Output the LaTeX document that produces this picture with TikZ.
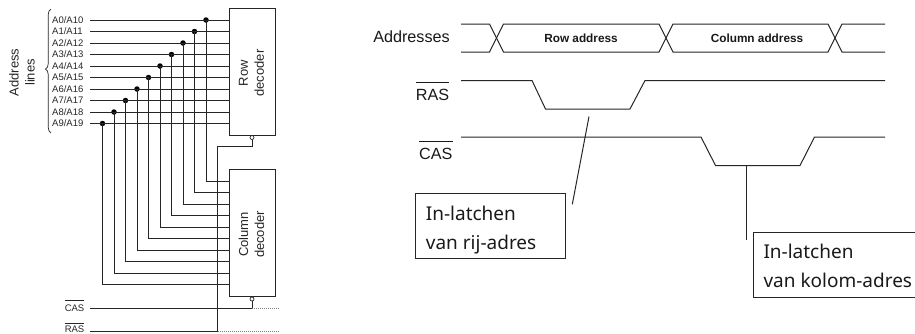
\documentclass[tikz,border=0pt]{standalone}
\usepackage{fontspec}
\setmainfont{Liberation Sans}
\newfontfamily\boxfont{Noto Sans}
\usetikzlibrary{decorations.pathreplacing,calc}
\tikzset{
  wire/.style={line width=1pt,color=black!85},
  box/.style={draw=black!85,line width=1pt,inner sep=0pt},
  dotted wire/.style={line width=1pt,color=black!50,dash pattern=on 1pt off 1pt},
  joint/.style={circle,fill=black,inner sep=0pt,minimum size=5.5pt},
  bubble/.style={circle,draw=black!85,fill=white,line width=0.7pt,inner sep=0pt,minimum size=4pt},
  small/.style={font=\fontsize{9.5}{11}\selectfont,text=black!85,inner sep=0pt},
  mid/.style={font=\fontsize{13}{16}\selectfont,text=black!85,align=center,inner sep=0pt},
  big/.style={font=\fontsize{16.2}{18}\selectfont,text=black!90,inner sep=0pt},
  bold/.style={font=\fontsize{11.8}{14}\selectfont\bfseries,text=black!90,inner sep=0pt},
  note/.style={box,anchor=north west,inner sep=0pt},
  notetext/.style={anchor=base west,font=\boxfont\fontsize{19}{22}\selectfont,text=black!90,inner sep=0pt},
}
\begin{document}
\begin{tikzpicture}[x=1pt,y=-1pt]
\path[use as bounding box,clip] (0,0) rectangle (915,333);
% decoders
\node[box,minimum width=46pt,minimum height=126.5pt] (row) at (252,71.75) {};
\node[box,minimum width=46pt,minimum height=126.5pt] (col) at (252,233) {};
\node[mid,rotate=90] at (251.5,73) {Row\\decoder};
\node[mid,rotate=90] at (251.5,234.5) {Column\\decoder};
\node[mid,rotate=90] (addr) at (22,72.5) {Address\\lines};
% address lines
\foreach \i in {0,...,9}{
  \pgfmathsetmacro{\ya}{20+11.5*\i}
  \pgfmathsetmacro{\xd}{206-11.5*\i}
  \pgfmathsetmacro{\yc}{181+11.55*\i}
  \node[small,anchor=west] (lab\i) at (52,\ya) {A\i/A1\i};
  \coordinate (s\i) at (90,\ya);
  \coordinate (r\i) at (229,\ya);
  \node[joint] (d\i) at (\xd,\ya) {};
  \coordinate (e\i) at (229,\yc);
  \draw[wire] (s\i) -- (r\i);
  \draw[wire] (d\i.center) |- (e\i);
}
% brace
\coordinate (bt) at (51,9);
\coordinate (bb) at (51,133);
\draw[line width=0.7pt,color=black!85,decorate,decoration={brace,amplitude=5.5pt,mirror,aspect=0.485}] (bt) -- (bb);
% RAS / CAS
\node[bubble] (rb) at (252,137.5) {};
\node[bubble] (cb) at (252,299) {};
\node[small,anchor=base east] (caslab) at (84.5,311) {$\overline{\rule{0pt}{9.8pt}\mbox{CAS}}$};
\node[small,anchor=base east] (raslab) at (84.5,332.5) {$\overline{\rule{0pt}{8.3pt}\mbox{RAS}}$};
\coordinate (cs) at (90,308);
\coordinate (rs) at (90,331);
\coordinate (cj) at (252,308);
\coordinate (rj) at (217.5,331);
\coordinate (ce) at (279,308);
\coordinate (re) at (279,331);
\draw[wire] (rb.south) |- (217.5,146.5) -- (rj);
\draw[wire] (cb.south) -- (cj);
\draw[wire] (cs) -- (cj);
\draw[wire] (rs) -- (rj);
\draw[dotted wire] (cj) -- (ce);
\draw[dotted wire] (rj) -- (re);
% timing labels
\node[big,anchor=base east] (la) at (450,42.7) {Addresses};
\node[big,anchor=base east] (lr) at (449.5,100) {$\overline{\rule{0pt}{16.5pt}\mbox{RAS}}$};
\node[big,anchor=base east] (lc) at (452.7,159) {$\overline{\rule{0pt}{16pt}\mbox{CAS}}$};
\node[bold] (ra) at (581,38) {Row address};
\node[bold] (ca) at (757,38) {Column address};
% address waveform
\draw[wire] (461,24) -- (489.5,24) -- (503.5,52) -- (659,52) -- (673,24) -- (828,24) -- (842,52) -- (885,52);
\draw[wire] (461,52) -- (489.5,52) -- (503.5,24) -- (659,24) -- (673,52) -- (828,52) -- (842,24) -- (885,24);
% RAS / CAS waveform
\draw[wire] (461,80.5) -- (532,80.5) -- (545.5,109) -- (630,109) -- (645,80.5) -- (885,80.5);
\draw[wire] (461,137) -- (701,137) -- (715.5,165.5) -- (800,165.5) -- (814.5,137) -- (885,137);
% notes
\node[note,minimum width=150pt,minimum height=65pt] (n1) at (415,193) {};
\node[note,minimum width=170pt,minimum height=65.3pt] (n2) at (753,231.7) {};
\node[notetext] (t1a) at (425.7,220) {In-latchen};
\node[notetext] (t1b) at (425.7,249.3) {van rij-adres};
\node[notetext] (t2a) at (763.3,258.3) {In-latchen};
\node[notetext] (t2b) at (763.3,287.7) {van kolom-adres};
% latch pointers
\coordinate (p1a) at (589,116.5);
\coordinate (p1b) at (572.3,204.3);
\coordinate (p2a) at (746,165.5);
\coordinate (p2b) at (746,240);
\draw[wire] (p1a) -- (p1b);
\draw[wire] (p2a) -- (p2b);
\end{tikzpicture}
\end{document}
